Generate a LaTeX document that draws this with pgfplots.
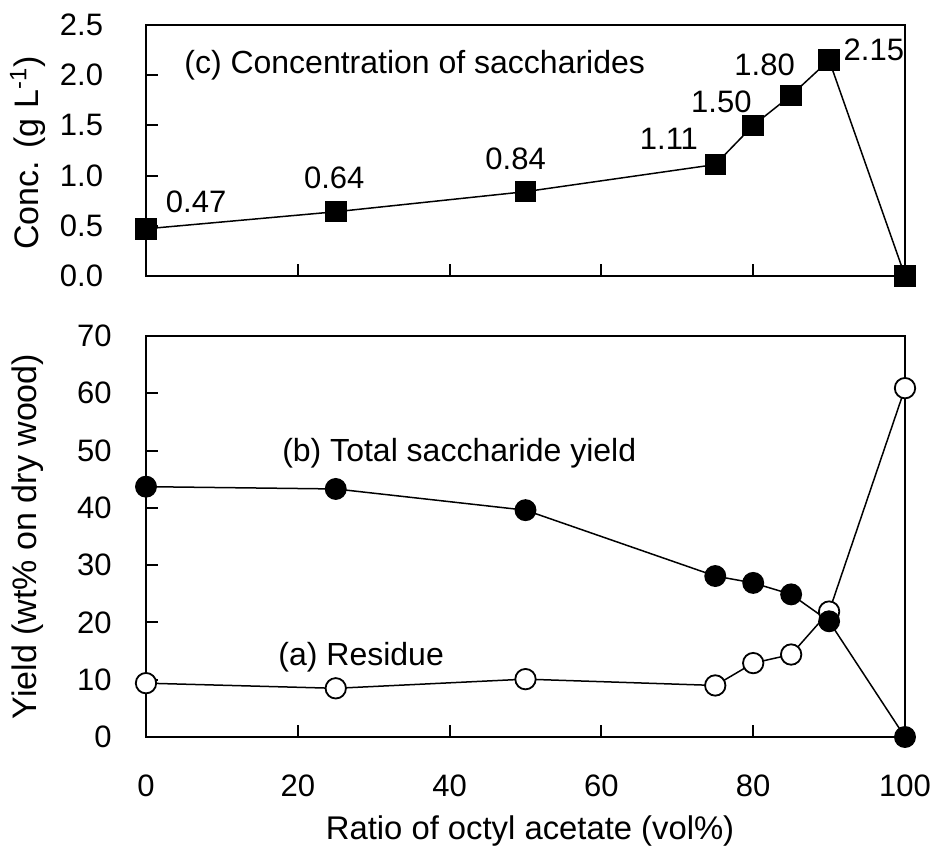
\documentclass[border=0pt]{standalone}
\usepackage{fontspec}
\setmainfont{Liberation Sans}
\usepackage{pgfplots}
\pgfplotsset{compat=1.18}
\pgfplotsset{
  mystyle/.style={
    scale only axis, width=379.5pt, xmin=0, xmax=100,
    axis line style={line width=1.2pt},
    every tick/.style={line width=1pt, black},
    major tick length=6pt,
    tick align=inside,
    xtick pos=left, ytick pos=left,
    clip=false,
    tick label style={font=\fontsize{15.5}{18}\selectfont, inner sep=0pt},
  }
}
\begin{document}
\fontsize{15.5}{18}\selectfont
\begin{tikzpicture}
\path[use as bounding box] (-73pt,-57.5pt) rectangle (395pt,368.5pt);
% bottom axis
\begin{axis}[mystyle, at={(0,0)}, anchor=origin, height=200.5pt,
  ymin=0, ymax=70, ytick={0,10,...,70}, yticklabels={0,10,20,30,40,50,60,70},
  xtick={0,20,...,100}, xticklabels={0,20,40,60,80,100},
  yticklabel style={anchor=east, xshift=-17pt},
  xticklabel style={anchor=north, yshift=-18.5pt},
  xlabel={Ratio of octyl acetate (vol\%)},
  ylabel={Yield (wt\% on dry wood)},
  every axis x label/.style={at={(axis description cs:0.506,-0.2344)}, anchor=center, font=\fontsize{16.4}{19}\selectfont},
  every axis y label/.style={at={(axis description cs:-0.1555,0.5)}, anchor=center, rotate=90, font=\fontsize{17}{20}\selectfont},
]
\addplot[black, line width=0.75pt, mark=*, mark size=5.1pt, mark options={fill=white, line width=0.9pt}]
  coordinates {(0,9.4)(25,8.5)(50,10.1)(75,9.0)(80,12.9)(85,14.4)(90,21.9)(100,60.9)};
\addplot[black, line width=0.75pt, mark=*, mark size=5.1pt, mark options={fill=black}]
  coordinates {(0,43.7)(25,43.3)(50,39.6)(75,28.1)(80,26.9)(85,24.9)(90,20.2)(100,0)};
\node[anchor=west, inner sep=0pt, font=\fontsize{16}{19}\selectfont] at (axis cs:17.9,49.5) {(b) Total saccharide yield};
\node[anchor=west, inner sep=0pt, font=\fontsize{16}{19}\selectfont] at (axis cs:17.4,14.0) {(a) Residue};
\end{axis}
% top axis
\begin{axis}[mystyle, at={(0,230.5pt)}, anchor=origin, height=125.5pt,
  ymin=0, ymax=2.5, ytick={0,0.5,...,2.5}, yticklabels={0.0,0.5,1.0,1.5,2.0,2.5},
  xtick={20,40,60,80}, xticklabels={},
  yticklabel style={anchor=east, xshift=-21.3pt},
  ylabel={Conc. (g L\textsuperscript{-1})},
  every axis y label/.style={at={(axis description cs:-0.1555,0.49)}, anchor=center, rotate=90, font=\fontsize{17}{20}\selectfont},
]
\addplot[black, line width=0.75pt, mark=square*, mark size=5pt, mark options={fill=black}]
  coordinates {(0,0.47)(25,0.64)(50,0.84)(75,1.11)(80,1.50)(85,1.80)(90,2.15)(100,0)};
\node[anchor=west, inner sep=0pt, font=\fontsize{16}{19}\selectfont] at (axis cs:5.0,2.10) {(c) Concentration of saccharides};
\node[font=\fontsize{15.5}{18}\selectfont] at (axis cs:6.6,0.74) {0.47};
\node[font=\fontsize{15.5}{18}\selectfont] at (axis cs:24.8,0.98) {0.64};
\node[font=\fontsize{15.5}{18}\selectfont] at (axis cs:48.7,1.17) {0.84};
\node[font=\fontsize{15.5}{18}\selectfont] at (axis cs:68.9,1.37) {1.11};
\node[font=\fontsize{15.5}{18}\selectfont] at (axis cs:75.8,1.73) {1.50};
\node[font=\fontsize{15.5}{18}\selectfont] at (axis cs:81.5,2.10) {1.80};
\node[font=\fontsize{15.5}{18}\selectfont] at (axis cs:95.9,2.25) {2.15};
\end{axis}
\end{tikzpicture}
\end{document}
